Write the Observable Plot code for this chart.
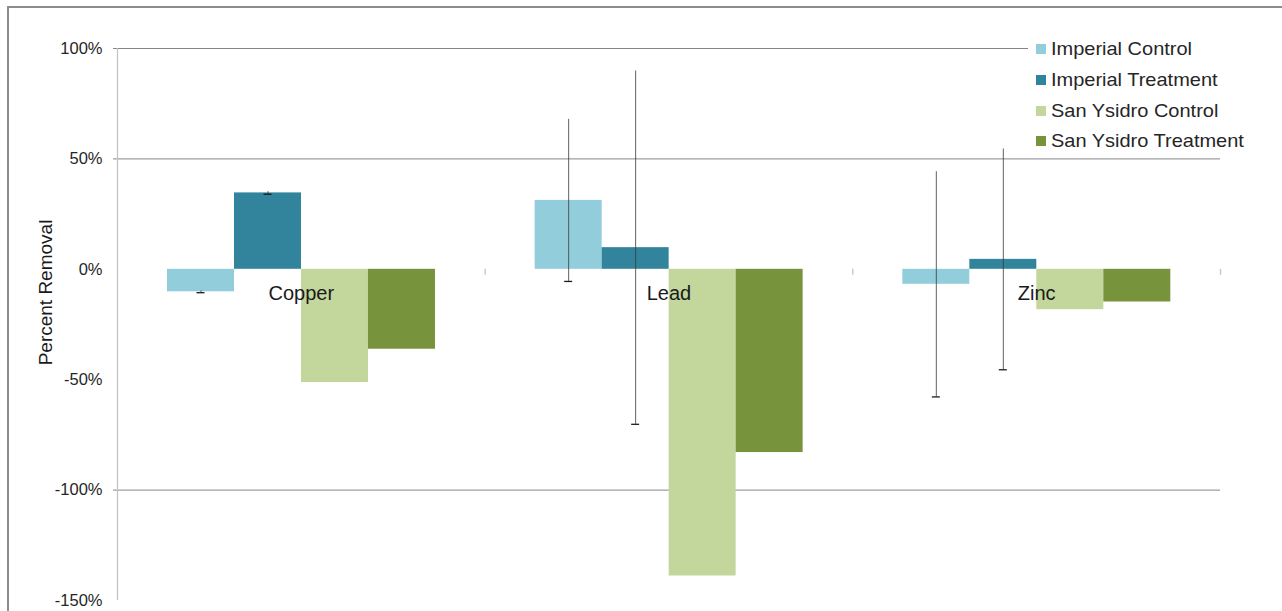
<!DOCTYPE html>
<html>
<head>
<meta charset="utf-8">
<script src="https://cdn.jsdelivr.net/npm/d3@7"></script>
<script src="https://cdn.jsdelivr.net/npm/@observablehq/plot@0.6"></script>
<style>
  html, body { margin: 0; padding: 0; background: #fff; }
  #wrap { position: relative; width: 1282px; height: 611px; overflow: hidden; font-family: "Liberation Sans", Arial, sans-serif; }
  #wrap svg { position: absolute; left: 0; top: 0; }
  #border { position: absolute; left: 7px; top: 6px; right: -10px; bottom: -10px; border-top: 2px solid #8c8c8c; border-left: 2px solid #8c8c8c; pointer-events: none; }
  #legend { position: absolute; left: 1028px; top: 34px; width: 230px; background: #fff; padding: 0 0 0 8px; box-sizing: border-box; }
  #legend .row { display: flex; align-items: center; height: 30.7px; font-size: 18.5px; color: #262626; white-space: nowrap; }
  #legend .sw { width: 10px; height: 10px; margin-right: 5px; flex: none; }
  #legend .lbl { display: inline-block; transform: scaleX(1.08); transform-origin: left center; }
</style>
</head>
<body>
<div id="wrap"></div>
<script>
// ---- data ----
const categories = ["Copper", "Lead", "Zinc"];
const series = ["Imperial Control", "Imperial Treatment", "San Ysidro Control", "San Ysidro Treatment"];
const seriesColors = ["#92cddc", "#31849b", "#c3d69b", "#77933c"];
const imperialControl = [-10.2, 31.2, -6.8];
const imperialTreatment = [34.6, 9.8, 4.5];
const sanYsidroControl = [-51.3, -138.9, -18.3];
const sanYsidroTreatment = [-36.2, -83.0, -14.8];
const imperialControlError = [0.4, 36.7, 51];
const imperialTreatmentError = [0.6, 80, 50];
const sanYsidroControlError = [null, null, null];
const sanYsidroTreatmentError = [null, null, null];
const yTicks = [-150, -100, -50, 0, 50, 100];
const gridTicks = [-100, 50, 100];
const yLabel = "Percent Removal";

// ---- table ----
const valuesBySeries = [imperialControl, imperialTreatment, sanYsidroControl, sanYsidroTreatment];
const errorsBySeries = [imperialControlError, imperialTreatmentError, sanYsidroControlError, sanYsidroTreatmentError];
const rows = [];
categories.forEach((c, ci) => {
  series.forEach((s, sj) => {
    rows.push({category: c, ci, series: s, sj, value: valuesBySeries[sj][ci], error: errorsBySeries[sj][ci]});
  });
});
const errRows = rows.filter(d => d.error != null);

// layout within each category group (fractions of a group)
const groupPad = 50 / 367.7;
const barW = 67 / 367.7;
const bx1 = d => d.ci + groupPad + d.sj * barW;
const bx2 = d => d.ci + groupPad + (d.sj + 1) * barW;
const bxc = d => d.ci + groupPad + (d.sj + 0.5) * barW;

const chart = Plot.plot({
  width: 1282,
  height: 611,
  marginLeft: 117,
  marginRight: 62,
  marginTop: 48,
  marginBottom: 11,
  style: {fontFamily: '"Liberation Sans", Arial, sans-serif', background: "transparent", overflow: "visible"},
  x: {domain: [0, categories.length], axis: null},
  y: {domain: [-150, 100], axis: null},
  color: {domain: series, range: seriesColors},
  marks: [
    // gridlines with small outer tick
    Plot.ruleY(gridTicks, {stroke: "#858585", strokeWidth: 1, insetLeft: -4}),
    // vertical axis line
    Plot.ruleX([0], {stroke: "#c4c4c4", strokeWidth: 1.3}),
    // bars
    Plot.rect(rows, {x1: bx1, x2: bx2, y1: d => 0, y2: "value", fill: "series"}),
    // category boundary ticks on the zero line
    Plot.ruleX(d3.range(1, categories.length + 1), {y1: d => 0, y2: d => 0, insetBottom: -6, stroke: "#c4c4c4", strokeWidth: 1.3}),
    // error bars
    Plot.ruleX(errRows, {x: bxc, y1: d => d.value - d.error, y2: d => d.value + d.error, stroke: "#3a3a3a", strokeOpacity: 0.8, strokeWidth: 1}),
    Plot.ruleY(errRows, {y: d => d.value - d.error, x1: bxc, x2: bxc, insetLeft: -4, insetRight: -4, stroke: "#1a1a1a", strokeWidth: 1.3}),
    // category labels
    Plot.text(categories, {x: (d, i) => i + 0.5, y: d => 0, text: d => d, dy: 24, fontSize: 20, fill: "#1a1a1a"}),
    // y axis tick labels
    Plot.axisY({ticks: yTicks, tickFormat: d => d + "%", tickSize: 0, tickPadding: 15, fontSize: 16.5, label: null, fill: "#262626"}),
    // y axis title
    Plot.text([yLabel], {frameAnchor: "left", textAnchor: "middle", rotate: -90, dx: -72, dy: -32, fontSize: 19, fill: "#1a1a1a", text: d => d})
  ]
});

const wrap = document.getElementById("wrap");
wrap.appendChild(chart);
const border = document.createElement("div");
border.id = "border";
wrap.appendChild(border);
const legend = document.createElement("div");
legend.id = "legend";
series.forEach((s, i) => {
  const row = document.createElement("div");
  row.className = "row";
  const sw = document.createElement("span");
  sw.className = "sw";
  sw.style.background = seriesColors[i];
  const label = document.createElement("span");
  label.className = "lbl";
  label.textContent = s;
  row.appendChild(sw);
  row.appendChild(label);
  legend.appendChild(row);
});
wrap.appendChild(legend);
</script>
</body>
</html>
